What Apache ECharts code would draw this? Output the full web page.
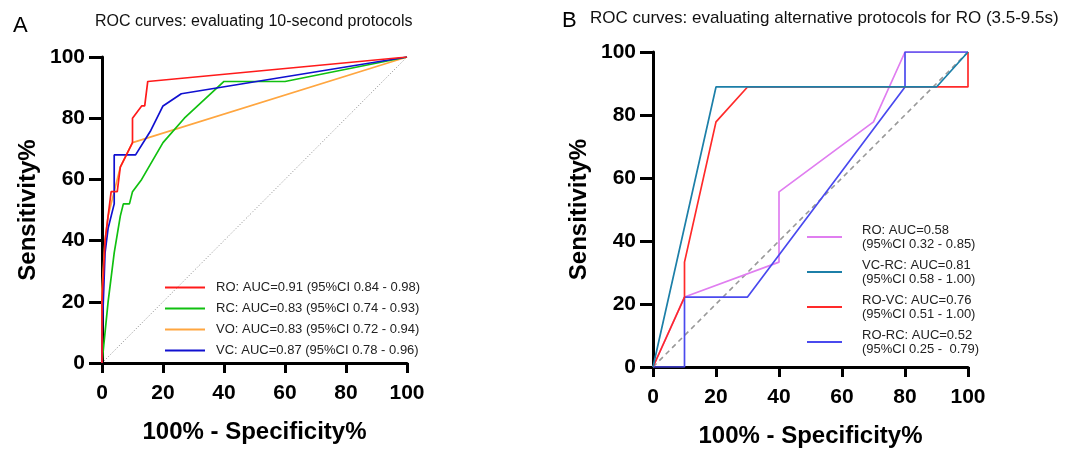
<!DOCTYPE html>
<html>
<head>
<meta charset="utf-8">
<script src="https://cdn.jsdelivr.net/npm/echarts@6/dist/echarts.min.js"></script>
<style>
  html, body { margin: 0; padding: 0; background: #fff; }
  #chart { width: 1076px; height: 454px; }
</style>
</head>
<body>
<div id="chart"></div>
<script>
// Panel A: 10-second protocols, [100% - specificity, sensitivity]
const roA = [[0,0],[0,20],[1,40],[2,48],[3,56],[5,56],[6,64],[8,68],[10,72],[10,80],[13,84],[14,84],[15,92],[100,100]];
const rcA = [[0,0],[2,20],[4,36],[6,48],[7,52],[9,52],[10,56],[13,60],[20,72],[27,80],[40,92],[60,92],[100,100]];
const voA = [[0,0],[0,24],[1,40],[2,48],[4,56],[6,64],[8,68],[10,72],[100,100]];
const vcA = [[0,0],[0,8],[1,36],[2,44],[4,52],[4,68],[11,68],[16,76],[20,84],[26,88],[100,100]];
const namesA = [
  'RO: AUC=0.91 (95%CI 0.84 - 0.98)',
  'RC: AUC=0.83 (95%CI 0.74 - 0.93)',
  'VO: AUC=0.83 (95%CI 0.72 - 0.94)',
  'VC: AUC=0.87 (95%CI 0.78 - 0.96)'
];

// Panel B: alternative protocols for RO (3.5-9.5s)
const roB = [[0,0],[10,22.2],[40,33.3],[40,55.6],[70,77.8],[80,100],[100,100]];
const vcrcB = [[0,0],[20,88.9],[90,88.9],[100,100]];
const rovcB = [[0,0],[10,22.2],[10,33.3],[20,77.8],[30,88.9],[100,88.9],[100,100]];
const rorcB = [[0,0],[10,0],[10,22.2],[30,22.2],[80,88.9],[80,100],[100,100]];
const namesB = [
  'RO: AUC=0.58\n(95%CI 0.32 - 0.85)',
  'VC-RC: AUC=0.81\n(95%CI 0.58 - 1.00)',
  'RO-VC: AUC=0.76\n(95%CI 0.51 - 1.00)',
  'RO-RC: AUC=0.52\n(95%CI 0.25 -  0.79)'
];

const diag = [[0,0],[100,100]];

const FONT = 'Liberation Sans, Arial, sans-serif';
const chart = echarts.init(document.getElementById('chart'));

function xAx(gi) {
  return {
    gridIndex: gi, type: 'value', min: 0, max: 100, interval: 20,
    name: '100% - Specificity%', nameLocation: 'middle', nameGap: 57,
    nameTextStyle: { fontFamily: FONT, fontSize: 24, fontWeight: 'bold', color: '#000' },
    axisLine: { lineStyle: { color: '#000', width: 3 } },
    axisTick: { length: 10, lineStyle: { color: '#000', width: 3 } },
    axisLabel: { fontFamily: FONT, fontSize: 21, fontWeight: 'bold', color: '#000', margin: 20 },
    splitLine: { show: false }
  };
}
function yAx(gi) {
  return {
    gridIndex: gi, type: 'value', min: 0, max: 100, interval: 20,
    name: 'Sensitivity%', nameLocation: 'middle', nameGap: 62,
    nameTextStyle: { fontFamily: FONT, fontSize: 24, fontWeight: 'bold', color: '#000' },
    axisLine: { show: true, lineStyle: { color: '#000', width: 3 } },
    axisTick: { show: true, length: 13, lineStyle: { color: '#000', width: 3 } },
    axisLabel: { fontFamily: FONT, fontSize: 21, fontWeight: 'bold', color: '#000', margin: 17 },
    splitLine: { show: false }
  };
}
function line(name, data, color, gi, width) {
  return {
    name: name, type: 'line', data: data, xAxisIndex: gi, yAxisIndex: gi,
    symbol: 'none', animation: false,
    lineStyle: { color: color, width: width || 1.7 },
    itemStyle: { color: color }
  };
}

const option = {
  backgroundColor: '#fff',
  animation: false,
  title: [
    { text: 'A', left: 8, top: 10, textStyle: { fontFamily: FONT, fontSize: 22, fontWeight: 'normal', color: '#000' } },
    { text: 'ROC curves: evaluating 10-second protocols', left: 90, top: 9, textStyle: { fontFamily: FONT, fontSize: 16, fontWeight: 'normal', color: '#111' } },
    { text: 'B', left: 557, top: 5, textStyle: { fontFamily: FONT, fontSize: 22, fontWeight: 'normal', color: '#000' } },
    { text: 'ROC curves: evaluating alternative protocols for RO (3.5-9.5s)', left: 585, top: 5, textStyle: { fontFamily: FONT, fontSize: 17, fontWeight: 'normal', color: '#111' } }
  ],
  grid: [
    { left: 102, top: 57, width: 305, height: 306 },
    { left: 653, top: 52, width: 315, height: 315 }
  ],
  xAxis: [xAx(0), xAx(1)],
  yAxis: [yAx(0), yAx(1)],
  legend: [
    {
      data: namesA, left: 160, top: 276, orient: 'vertical', itemGap: 8,
      itemWidth: 40, itemHeight: 2, icon: 'rect',
      textStyle: { fontFamily: FONT, fontSize: 13, color: '#222', padding: [0, 0, 0, 6] }
    },
    {
      data: namesB, left: 802, top: 218, orient: 'vertical', itemGap: 7,
      itemWidth: 35, itemHeight: 2, icon: 'rect',
      textStyle: { fontFamily: FONT, fontSize: 13, color: '#222', lineHeight: 14, padding: [0, 0, 0, 15] }
    }
  ],
  series: [
    { type: 'line', data: diag, xAxisIndex: 0, yAxisIndex: 0, symbol: 'none', silent: true,
      lineStyle: { color: '#888', width: 1, type: [1, 2] } },
    line(namesA[2], voA, '#ffa640', 0),
    line(namesA[1], rcA, '#10c010', 0),
    line(namesA[3], vcA, '#1010d0', 0),
    line(namesA[0], roA, '#ff1a1a', 0),

    { type: 'line', data: diag, xAxisIndex: 1, yAxisIndex: 1, symbol: 'none', silent: true,
      lineStyle: { color: '#999', width: 1.6, type: [5, 4] } },
    line(namesB[0], roB, '#e07ef0', 1),
    line(namesB[3], rorcB, '#4a4aee', 1),
    line(namesB[2], rovcB, '#ff2a2a', 1),
    line(namesB[1], vcrcB, '#1c7fa8', 1)
  ]
};
chart.setOption(option);
</script>
</body>
</html>
